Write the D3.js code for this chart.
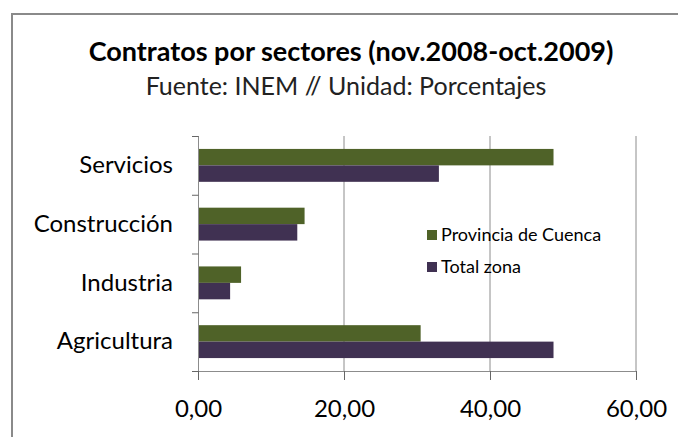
<!DOCTYPE html>
<html>
<head>
<meta charset="utf-8">
<script src="https://cdn.jsdelivr.net/npm/d3@7"></script>
<style>
  body { margin: 0; background: #fff; }
  svg text { font-family: Lato, "Open Sans", sans-serif; fill: #000; }
</style>
</head>
<body>
<div id="chart"></div>
<script>
// Data
const sectores = ["Servicios", "Construcción", "Industria", "Agricultura"];
const series = ["Provincia de Cuenca", "Total zona"];
const provincia = [48.7, 14.6, 5.9, 30.5];
const totalZona = [33.0, 13.6, 4.4, 48.7];
const xTicks = [0, 20, 40, 60];
const colores = ["#4f6228", "#403152"];

const width = 678, height = 437;
const margin = { top: 136, right: 41, bottom: 66, left: 198 };
const innerW = width - margin.left - margin.right,
  innerH = height - margin.top - margin.bottom;

const svg = d3.select("#chart").append("svg")
  .attr("width", width)
  .attr("height", height);

// outer frame
svg.append("rect")
  .attr("x", 12).attr("y", 14)
  .attr("width", 700).attr("height", 460)
  .attr("fill", "none")
  .attr("stroke", "#8a8a8a")
  .attr("stroke-width", 2);

// titles
svg.append("text")
  .attr("x", 351).attr("y", 61)
  .attr("text-anchor", "middle")
  .style("font-size", "27px")
  .style("font-weight", "bold")
  .text("Contratos por sectores (nov.2008-oct.2009)");

svg.append("text")
  .attr("x", 346).attr("y", 95)
  .attr("text-anchor", "middle")
  .style("font-size", "25px")
  .style("fill", "#222")
  .text("Fuente: INEM // Unidad: Porcentajes");

const g = svg.append("g")
  .attr("transform", "translate(" + margin.left + "," + margin.top + ")");

const x = d3.scaleLinear().domain([0, 60]).range([0, innerW - 1]);

const y = d3.scaleBand()
  .domain(sectores)
  .range([0, innerH])
  .paddingInner(0.44)
  .paddingOuter(0.22);

const ySub = d3.scaleBand()
  .domain(series)
  .range([0, y.bandwidth()]);

const fmt = d3.formatLocale({ decimal: ",", thousands: ".", grouping: [3], currency: ["", "€"] }).format(".2f");

// gridlines
g.selectAll(".grid")
  .data(xTicks.slice(1))
  .enter().append("line")
  .attr("x1", d => x(d)).attr("x2", d => x(d))
  .attr("y1", 0).attr("y2", innerH)
  .attr("stroke", "#8c8c8c")
  .attr("stroke-width", 1);

// bars
const datos = sectores.map((s, i) => ({ sector: s, valores: [provincia[i], totalZona[i]] }));

const grupos = g.selectAll(".grupo")
  .data(datos)
  .enter().append("g")
  .attr("transform", d => "translate(0," + y(d.sector) + ")");

grupos.selectAll("rect")
  .data(d => d.valores.map((v, j) => ({ serie: series[j], valor: v, color: colores[j] })))
  .enter().append("rect")
  .attr("x", 0)
  .attr("y", d => ySub(d.serie))
  .attr("width", d => x(d.valor))
  .attr("height", ySub.bandwidth())
  .attr("fill", d => d.color);

// X axis
const xAxis = g.append("g")
  .attr("transform", "translate(0," + innerH + ")")
  .call(d3.axisBottom(x).tickValues(xTicks).tickFormat(fmt).tickSize(9).tickSizeOuter(0).tickPadding(20));
xAxis.select(".domain").attr("stroke", "#8c8c8c");
xAxis.selectAll(".tick line").attr("stroke", "#666");
xAxis.selectAll("text").style("font-size", "24px");

// Y axis
const yAxis = g.append("g")
  .call(d3.axisLeft(y).tickSize(0).tickPadding(25));
yAxis.select(".domain").attr("stroke", "#8c8c8c").attr("d", "M0.5,0V" + innerH);
yAxis.selectAll("text").style("font-size", "24px");

// category separators on y axis
const sep = d3.range(sectores.length + 1).map(i => i * y.step());
g.selectAll(".ysep")
  .data(sep)
  .enter().append("line")
  .attr("x1", -6).attr("x2", 0.5)
  .attr("y1", d => d + 0.5).attr("y2", d => d + 0.5)
  .attr("stroke", "#666");

// legend
const leyenda = svg.append("g")
  .attr("transform", "translate(427,230)");

const item = leyenda.selectAll(".item")
  .data(series)
  .enter().append("g")
  .attr("transform", (d, i) => "translate(0," + i * 32 + ")");

item.append("rect")
  .attr("width", 10).attr("height", 10)
  .attr("fill", (d, i) => colores[i]);

item.append("text")
  .attr("x", 14).attr("y", 11)
  .style("font-size", "18px")
  .text(d => d);
</script>
</body>
</html>
